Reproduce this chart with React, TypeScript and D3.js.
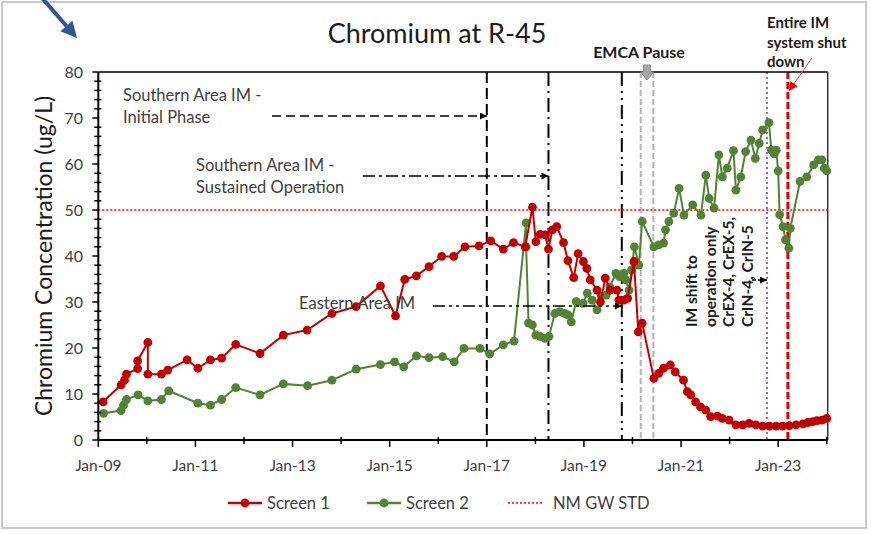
import { useEffect, useRef } from 'react';
import * as d3 from 'd3';

// decimal years
const screen1Dates = [
  2009.10, 2009.47, 2009.54, 2009.58, 2009.81, 2009.81, 2010.02, 2010.02, 2010.30, 2010.43,
  2010.83, 2011.05, 2011.31, 2011.54, 2011.83, 2012.33, 2012.81, 2013.30, 2013.81, 2014.31,
  2014.81, 2015.12, 2015.31, 2015.55, 2015.81, 2016.07, 2016.32, 2016.55, 2016.84, 2017.08,
  2017.34, 2017.55, 2017.79, 2017.94, 2018.01, 2018.10, 2018.20, 2018.27, 2018.35, 2018.44,
  2018.58, 2018.67, 2018.79, 2018.88, 2018.99, 2019.06, 2019.13, 2019.27, 2019.34, 2019.44,
  2019.54, 2019.68, 2019.72, 2019.82, 2019.90, 2020.03, 2020.12, 2020.20, 2020.44, 2020.54,
  2020.64, 2020.78, 2020.88, 2021.05, 2021.13, 2021.20, 2021.30, 2021.40, 2021.51, 2021.61,
  2021.75, 2021.85, 2021.99, 2022.13, 2022.27, 2022.40, 2022.54, 2022.68, 2022.82, 2022.96,
  2023.09, 2023.23, 2023.37, 2023.51, 2023.61, 2023.71, 2023.80, 2023.90, 2024.00,
];
const screen1Values = [
  8.3, 12.0, 13.0, 14.3, 15.5, 17.2, 21.2, 14.3, 14.3, 15.2,
  17.4, 15.6, 17.4, 17.8, 20.8, 18.8, 22.8, 23.9, 27.5, 29.0,
  33.5, 27.0, 34.9, 35.7, 37.7, 39.9, 39.9, 42.0, 42.2, 43.3,
  41.5, 42.9, 42.0, 50.6, 43.1, 44.7, 44.6, 41.5, 45.7, 46.4,
  42.9, 39.0, 35.3, 40.5, 38.8, 37.3, 34.8, 32.6, 30.0, 35.2,
  32.6, 32.6, 30.4, 30.4, 30.8, 38.8, 23.5, 25.4, 13.4, 14.5,
  15.6, 16.3, 14.8, 13.0, 10.5, 9.8, 8.3, 7.2, 6.5, 5.1,
  5.2, 4.7, 4.3, 3.3, 3.3, 3.6, 3.3, 3.0, 3.0, 3.0,
  3.0, 3.1, 3.3, 3.5, 3.8, 4.0, 4.2, 4.3, 4.7,
];

const screen2Dates = [
  2009.11, 2009.47, 2009.52, 2009.58, 2009.82, 2010.02, 2010.30, 2010.45, 2011.05, 2011.31,
  2011.54, 2011.83, 2012.33, 2012.81, 2013.31, 2013.81, 2014.31, 2014.81, 2015.10, 2015.29,
  2015.55, 2015.81, 2016.09, 2016.33, 2016.53, 2016.86, 2017.06, 2017.34, 2017.56, 2017.81,
  2017.81, 2017.86, 2017.94, 2018.01, 2018.10, 2018.20, 2018.28, 2018.40, 2018.50, 2018.60,
  2018.67, 2018.74, 2018.84, 2018.98, 2019.07, 2019.17, 2019.27, 2019.36, 2019.46, 2019.53,
  2019.66, 2019.73, 2019.82, 2019.86, 2019.93, 2019.98, 2020.04, 2020.13, 2020.20, 2020.44,
  2020.54, 2020.64, 2020.68, 2020.75, 2020.85, 2020.96, 2021.06, 2021.24, 2021.41, 2021.51,
  2021.58, 2021.68, 2021.78, 2021.85, 2021.95, 2022.08, 2022.13, 2022.23, 2022.33, 2022.44,
  2022.53, 2022.61, 2022.68, 2022.81, 2022.86, 2022.92, 2022.96, 2023.00, 2023.03, 2023.10,
  2023.15, 2023.22, 2023.25, 2023.45, 2023.59, 2023.73, 2023.83, 2023.90, 2023.95, 2024.00,
];
const screen2Values = [
  5.8, 6.4, 7.6, 8.8, 9.8, 8.5, 8.8, 10.7, 8.0, 7.6,
  8.8, 11.4, 9.8, 12.2, 11.8, 13.0, 15.4, 16.4, 17.0, 15.9,
  18.3, 17.9, 18.1, 17.0, 19.9, 19.9, 18.7, 20.7, 21.5, 47.2,
  42.0, 25.4, 25.0, 22.8, 22.5, 22.1, 22.5, 27.5, 27.9, 27.5,
  27.2, 25.7, 30.1, 29.7, 31.9, 30.4, 28.3, 31.2, 31.5, 33.3,
  36.2, 35.5, 36.2, 34.8, 32.6, 37.0, 42.0, 38.0, 47.5, 42.0,
  42.4, 42.8, 45.7, 47.5, 49.3, 54.7, 48.9, 51.1, 48.9, 57.6,
  52.5, 50.4, 62.0, 57.2, 59.1, 62.9, 54.3, 57.2, 62.7, 65.2,
  61.2, 64.5, 67.4, 69.0, 63.0, 62.2, 63.0, 58.5, 49.0, 46.4,
  43.5, 41.7, 46.0, 56.2, 57.2, 59.8, 60.9, 60.9, 59.1, 58.5,
];

const yTicks = [0, 10, 20, 30, 40, 50, 60, 70, 80];
const xTickYears = [2009, 2011, 2013, 2015, 2017, 2019, 2021, 2023];
const xTickLabels = ['Jan-09', 'Jan-11', 'Jan-13', 'Jan-15', 'Jan-17', 'Jan-19', 'Jan-21', 'Jan-23'];
const nmGwStd = 50;

const initialPhaseDate = 2017.0;
const sustainedDate = 2018.27;
const easternDate = 2019.78;
const pauseStartDate = 2020.17;
const pauseEndDate = 2020.43;
const shiftDate = 2022.77;
const shutdownDate = 2023.2;

const shiftLines = ['IM shift to', 'operation only', 'CrEX-4, CrEX-5,', 'CrIN-4, CrIN-5'];

const RED = '#c00000';
const GREEN = '#548235';
const FONT = 'Lato, sans-serif';
const TXT = '#404040';

export default function App() {
  const svgRef = useRef<SVGSVGElement>(null);

  useEffect(() => {
    const svg = d3.select(svgRef.current);
    svg.selectAll('*').remove();

    const left = 98.3, right = 827.7, top = 72, bottom = 440;
    const x = d3.scaleLinear().domain([2009, 2024.02]).range([left, right]);
    const y = d3.scaleLinear().domain([0, 80]).range([bottom, top]);

    const defs = svg.append('defs');
    defs.append('marker')
      .attr('id', 'ah').attr('viewBox', '0 0 10 10').attr('refX', 10).attr('refY', 5)
      .attr('markerWidth', 7).attr('markerHeight', 7).attr('markerUnits', 'userSpaceOnUse')
      .attr('orient', 'auto')
      .append('path').attr('d', 'M0,0L10,5L0,10Z').attr('fill', '#000');
    defs.append('marker')
      .attr('id', 'ahRed').attr('viewBox', '0 0 10 10').attr('refX', 10).attr('refY', 5)
      .attr('markerWidth', 9).attr('markerHeight', 9).attr('markerUnits', 'userSpaceOnUse')
      .attr('orient', 'auto')
      .append('path').attr('d', 'M0,0L10,5L0,10Z').attr('fill', '#e00000');

    svg.append('rect').attr('width', 871).attr('height', 534).attr('fill', '#fff');
    svg.append('rect')
      .attr('x', 2).attr('y', 2).attr('width', 864).attr('height', 526)
      .attr('fill', 'none').attr('stroke', '#c8c8c8').attr('stroke-width', 2);

    // blue pointer arrow in the corner
    const bx0 = 42, by0 = -2, bx1 = 77, by1 = 38;
    const ang = Math.atan2(by1 - by0, bx1 - bx0);
    const hl = 16, hw = 8;
    const baseX = bx1 - hl * Math.cos(ang), baseY = by1 - hl * Math.sin(ang);
    svg.append('line').attr('x1', bx0).attr('y1', by0).attr('x2', baseX).attr('y2', baseY)
      .attr('stroke', '#2f5597').attr('stroke-width', 4);
    svg.append('path')
      .attr('d', `M${bx1},${by1}L${baseX + hw * Math.sin(ang)},${baseY - hw * Math.cos(ang)}L${baseX - hw * Math.sin(ang)},${baseY + hw * Math.cos(ang)}Z`)
      .attr('fill', '#2f5597');

    // title
    svg.append('text').attr('x', 437).attr('y', 43).attr('text-anchor', 'middle')
      .attr('font-family', FONT).attr('font-size', 27).attr('fill', '#1a1a1a')
      .text('Chromium at R-45');

    // y label
    svg.append('text').attr('transform', `translate(52,256) rotate(-90)`)
      .attr('text-anchor', 'middle').attr('font-family', FONT).attr('font-size', 23)
      .attr('fill', '#1a1a1a').text('Chromium Concentration (ug/L)');

    // event lines
    const vline = (d: number, color: string, w: number, dash: string) =>
      svg.append('line').attr('x1', x(d)).attr('x2', x(d)).attr('y1', top).attr('y2', bottom)
        .attr('stroke', color).attr('stroke-width', w).attr('stroke-dasharray', dash);
    vline(initialPhaseDate, '#000', 2, '11,5');
    vline(sustainedDate, '#000', 2, '14,5,2,5');
    vline(easternDate, '#000', 2, '14,5,2,5,2,5');
    vline(pauseStartDate, '#b4b4b4', 2, '6,3');
    vline(pauseEndDate, '#b4b4b4', 2, '6,3');
    vline(shiftDate, '#9966dd', 2, '2,3');
    vline(shutdownDate, '#e00000', 3, '7,3');

    // standard line
    svg.append('line').attr('x1', left).attr('x2', right).attr('y1', y(nmGwStd)).attr('y2', y(nmGwStd))
      .attr('stroke', '#ff0000').attr('stroke-width', 1.5).attr('stroke-dasharray', '2,2');

    // axes frame
    svg.append('line').attr('x1', left).attr('x2', right).attr('y1', top).attr('y2', top)
      .attr('stroke', '#000').attr('stroke-width', 1.5);
    svg.append('line').attr('x1', right).attr('x2', right).attr('y1', top).attr('y2', bottom)
      .attr('stroke', '#333').attr('stroke-width', 1.5);

    // series
    const series = (dates: number[], values: number[], color: string) => {
      const pts = dates.map((d, i) => [d, values[i]] as [number, number]);
      const line = d3.line<[number, number]>().x(d => x(d[0])).y(d => y(d[1]));
      svg.append('path').attr('d', line(pts)).attr('fill', 'none')
        .attr('stroke', color).attr('stroke-width', 2);
      svg.append('g').selectAll('circle').data(pts).enter().append('circle')
        .attr('cx', d => x(d[0])).attr('cy', d => y(d[1])).attr('r', 4.4).attr('fill', color);
    };
    series(screen2Dates, screen2Values, GREEN);
    series(screen1Dates, screen1Values, RED);

    // y axis
    svg.append('line').attr('x1', left).attr('x2', left).attr('y1', top).attr('y2', bottom)
      .attr('stroke', '#000').attr('stroke-width', 2);
    d3.range(0, 81, 2).forEach(v => {
      const major = v % 10 === 0;
      svg.append('line').attr('x1', major ? left - 6 : left - 4).attr('x2', major ? left : left + 3)
        .attr('y1', y(v)).attr('y2', y(v)).attr('stroke', '#000').attr('stroke-width', 1.5);
    });
    svg.append('g').selectAll('text').data(yTicks).enter().append('text')
      .attr('x', 83).attr('y', d => y(d)).attr('dy', '0.36em').attr('text-anchor', 'end')
      .attr('font-family', FONT).attr('font-size', 16).attr('fill', TXT).text(d => d);

    // x axis
    svg.append('line').attr('x1', left).attr('x2', right).attr('y1', bottom).attr('y2', bottom)
      .attr('stroke', '#000').attr('stroke-width', 2);
    d3.range(2009, 2025).forEach(yr => {
      const major = (yr - 2009) % 2 === 0;
      svg.append('line').attr('x1', x(yr)).attr('x2', x(yr))
        .attr('y1', major ? bottom : bottom - 3).attr('y2', major ? bottom + 7 : bottom + 4)
        .attr('stroke', '#000').attr('stroke-width', 1.5);
    });
    svg.append('g').selectAll('text').data(xTickYears).enter().append('text')
      .attr('x', d => x(d)).attr('y', 471).attr('text-anchor', 'middle')
      .attr('font-family', FONT).attr('font-size', 15.5).attr('fill', TXT)
      .text((d, i) => xTickLabels[i]);

    // annotations
    const note = (lines: string[], tx: number, ty: number, size: number, weight: string, gap: number) => {
      const t = svg.append('text').attr('font-family', FONT).attr('font-size', size)
        .attr('font-weight', weight).attr('fill', weight === 'bold' ? '#1a1a1a' : TXT);
      lines.forEach((l, i) => t.append('tspan').attr('x', tx).attr('y', ty + i * gap).text(l));
    };
    const arrow = (x1: number, x2: number, yy: number, dash: string) =>
      svg.append('line').attr('x1', x1).attr('x2', x2).attr('y1', yy).attr('y2', yy)
        .attr('stroke', '#000').attr('stroke-width', 1.5).attr('stroke-dasharray', dash)
        .attr('marker-end', 'url(#ah)');

    note(['Southern Area IM -', 'Initial Phase'], 123, 101, 16.5, 'normal', 22);
    arrow(272, x(initialPhaseDate), 116, '9,5');
    note(['Southern Area IM -', 'Sustained Operation'], 196, 171, 16.5, 'normal', 22);
    arrow(363, x(sustainedDate), 176, '12,4,3,4');
    note(['Eastern Area IM'], 299, 309, 16.5, 'normal', 22);
    arrow(433, x(easternDate), 306, '12,4,3,4,3,4');

    svg.append('text').attr('x', 639).attr('y', 58).attr('text-anchor', 'middle')
      .attr('font-family', FONT).attr('font-size', 16).attr('font-weight', 'bold')
      .attr('fill', '#1a1a1a').text('EMCA Pause');
    const gx = (x(pauseStartDate) + x(pauseEndDate)) / 2;
    svg.append('path')
      .attr('d', `M${gx - 3.5},65L${gx + 3.5},65L${gx + 3.5},72L${gx + 6.5},72L${gx},80L${gx - 6.5},72L${gx - 3.5},72Z`)
      .attr('fill', '#a6a6a6').attr('stroke', '#8c8c8c').attr('stroke-width', 1);

    note(['Entire IM', 'system shut', 'down'], 767, 28, 15, 'bold', 19.5);
    svg.append('line').attr('x1', 812).attr('y1', 58).attr('x2', x(shutdownDate) + 1).attr('y2', 91)
      .attr('stroke', '#e04040').attr('stroke-width', 1).attr('marker-end', 'url(#ahRed)');

    const shift = svg.append('text').attr('transform', 'rotate(-90)')
      .attr('font-family', FONT).attr('font-size', 15.5).attr('font-weight', 'bold').attr('fill', '#1a1a1a');
    shiftLines.forEach((l, i) => {
      shift.append('tspan').attr('x', -327).attr('y', 697 + i * 18.5).text(l);
    });
    arrow(752, x(shiftDate), 280, '4,2');

    // legend
    const ly = 503;
    const legendItem = (x0: number, color: string, label: string, dotted: boolean) => {
      svg.append('line').attr('x1', x0).attr('x2', x0 + 34).attr('y1', ly).attr('y2', ly)
        .attr('stroke', color).attr('stroke-width', dotted ? 1.5 : 2.5)
        .attr('stroke-dasharray', dotted ? '2,2' : null);
      if (!dotted) svg.append('circle').attr('cx', x0 + 17).attr('cy', ly).attr('r', 4.4).attr('fill', color);
      svg.append('text').attr('x', x0 + (dotted ? 45 : 39)).attr('y', ly).attr('dy', '0.36em')
        .attr('font-family', FONT).attr('font-size', 16.5).attr('fill', TXT).text(label);
    };
    legendItem(228, RED, 'Screen 1', false);
    legendItem(367, GREEN, 'Screen 2', false);
    legendItem(508, '#ff0000', 'NM GW STD', true);
  }, []);

  return (
    <svg ref={svgRef} width={871} height={534} style={{ position: 'absolute', left: 0, top: 0 }} />
  );
}
